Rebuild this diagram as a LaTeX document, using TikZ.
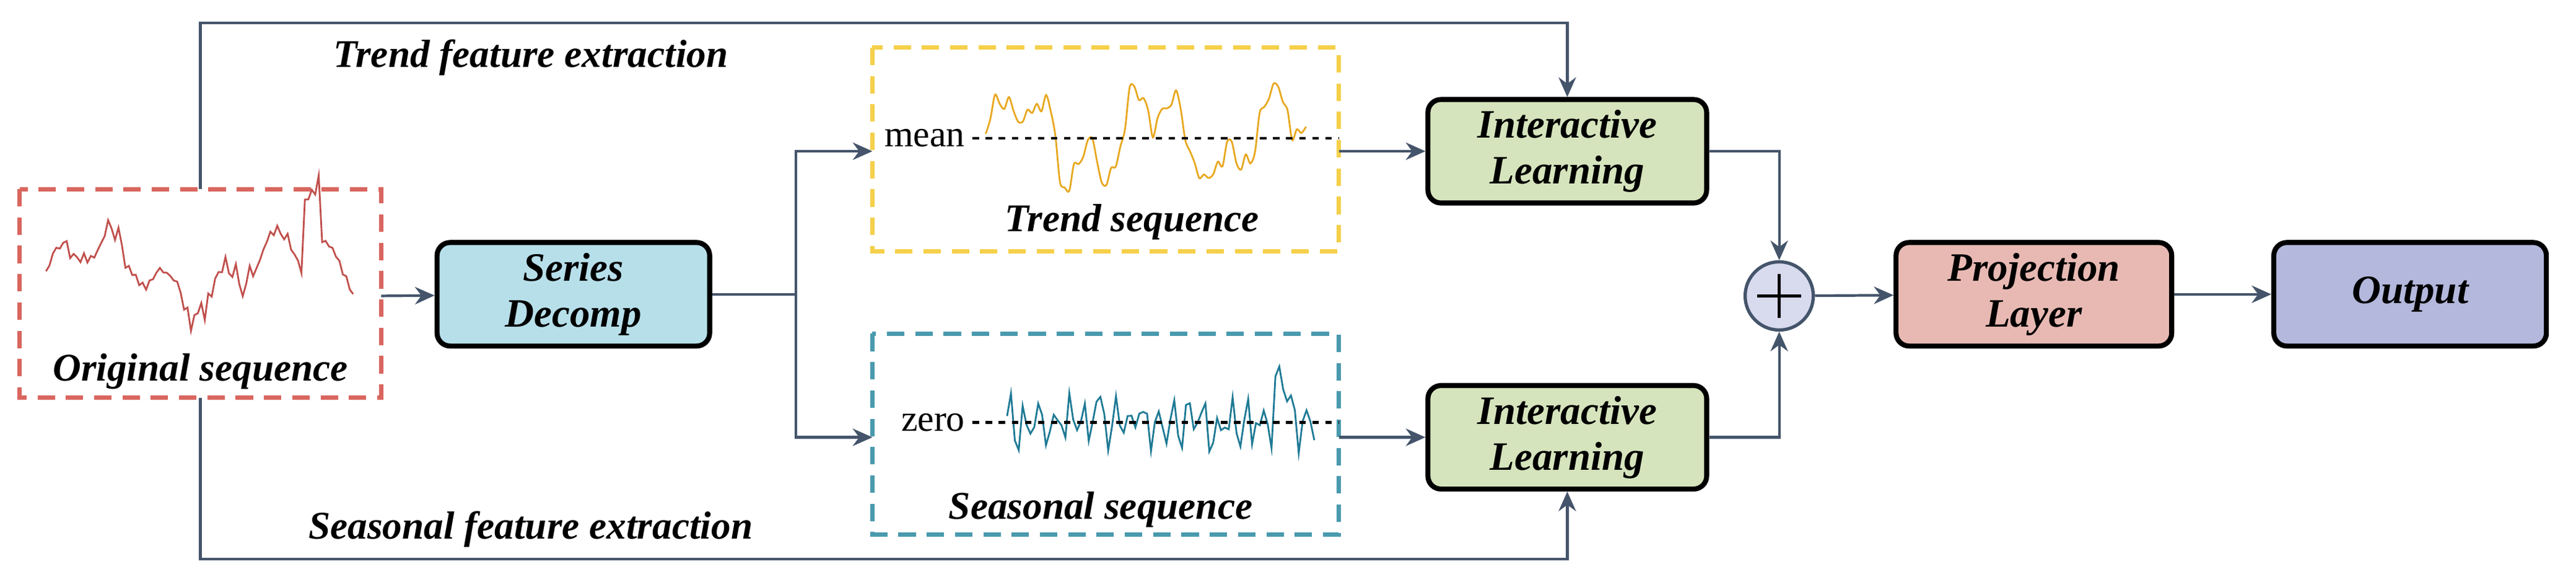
\documentclass[tikz,border=0pt]{standalone}
\usepackage{fontspec}
\setmainfont{Liberation Serif}
\usetikzlibrary{arrows.meta,positioning}
\definecolor{lnc}{HTML}{44546A}
\definecolor{redc}{HTML}{D9665F}
\definecolor{yelc}{HTML}{F5D04A}
\definecolor{tealc}{HTML}{4A9AAE}
\definecolor{wavy}{HTML}{E8A820}
\definecolor{wavt}{HTML}{1F7A95}
\definecolor{wavr}{HTML}{C0504D}
\tikzset{
  blk/.style={draw=black, line width=2.3pt, rounded corners=6pt, minimum height=1.67cm,
    font=\fontsize{18.5}{21}\selectfont\bfseries\itshape, align=center},
  dbox/.style={dashed, line width=2pt, dash pattern=on 8pt off 5pt},
  arr/.style={draw=lnc, line width=1.2pt, -{Stealth[length=9pt,width=8pt]}},
  lbl/.style={font=\fontsize{18}{21}\selectfont\bfseries\itshape},
}
\begin{document}
\begin{tikzpicture}[x=0.02652cm,y=-0.02652cm]
\useasboundingbox (0,0) rectangle (1568,354);

% dashed boxes
\draw[dbox, draw=redc] (12,115) rectangle (232,242);
\draw[dbox, draw=yelc] (531,29) rectangle (815,153);
\draw[dbox, draw=tealc] (531,203) rectangle (815,325);
\node[lbl] (orig) at (122,226) {Original sequence};
\node[lbl] (trend) at (689,135) {Trend sequence};
\node[lbl] (seas) at (670,310) {Seasonal sequence};
\coordinate (origin) at (232,180);
\coordinate (origtop) at (122,115);
\coordinate (origbot) at (122,242);
\coordinate (trin) at (531,92);
\coordinate (trout) at (815,92);
\coordinate (sein) at (531,266);
\coordinate (seout) at (815,266);

% waveforms
\pgfmathsetseed{7}
\draw[wavr, line width=0.8pt] plot[samples=90, domain=0:187]
  ({28+\x}, {165-16*sin(3*\x)-10*sin(11*\x)-18*rand*rand*rand-(\x>157)*(\x<167)*40});
\draw[wavy, line width=0.8pt] plot[samples=70, domain=0:195, smooth]
  ({600+\x}, {84-22*sin(4.5*\x)-14*sin(13*\x)-10*rand});
\draw[wavt, line width=0.8pt] plot[samples=80, domain=0:187]
  ({613+\x}, {257-9*sin(40*\x)-10*rand-(\x>162)*(\x<172)*25});
\node[font=\fontsize{17}{20}\selectfont, anchor=east] (mean) at (592,84) {mean};
\draw[dashed, line width=1.3pt] (mean.east) -- (815,84);
\node[font=\fontsize{17}{20}\selectfont, anchor=east] (zero) at (592,257) {zero};
\draw[dashed, line width=1.3pt] (zero.east) -- (815,257);

% blocks
\node[blk, fill={rgb,255:red,183;green,223;blue,234}, minimum width=4.4cm] (dec) at (349,179) {Series\\Decomp};
\node[blk, fill={rgb,255:red,214;green,228;blue,189}, minimum width=4.5cm] (il1) at (954,92) {Interactive\\Learning};
\node[blk, fill={rgb,255:red,214;green,228;blue,189}, minimum width=4.5cm] (il2) at (954,266) {Interactive\\Learning};
\node[draw=lnc, line width=1.5pt, circle, fill={rgb,255:red,216;green,218;blue,238}, minimum size=1.1cm] (sum) at (1083,180) {};
\draw[line width=1.5pt] ([yshift=-10pt]sum.center) -- ([yshift=10pt]sum.center)
  ([xshift=-10pt]sum.center) -- ([xshift=10pt]sum.center);
\node[blk, fill={rgb,255:red,232;green,185;blue,179}, minimum width=4.45cm] (proj) at (1238,179) {Projection\\Layer};
\node[blk, fill={rgb,255:red,179;green,184;blue,220}, minimum width=4.4cm] (out) at (1467,179) {Output};

% connectors
\draw[arr] (origin) -- (dec);
\draw[arr] (dec.east) -- ++(51,0) |- (trin);
\draw[arr] (dec.east) -- ++(51,0) |- (sein);
\draw[arr] (trout) -- (il1);
\draw[arr] (seout) -- (il2);
\draw[arr] (il1.east) -| (sum.north);
\draw[arr] (il2.east) -| (sum.south);
\draw[arr] (sum) -- (proj);
\draw[arr] (proj) -- (out);
\draw[arr] (origtop) -- (122,14) -| (il1.north);
\draw[arr] (origbot) -- (122,340) -| (il2.south);
\node[lbl] (tfe) at (323,35) {Trend feature extraction};
\node[lbl] (sfe) at (323,322) {Seasonal feature extraction};
\end{tikzpicture}
\end{document}
